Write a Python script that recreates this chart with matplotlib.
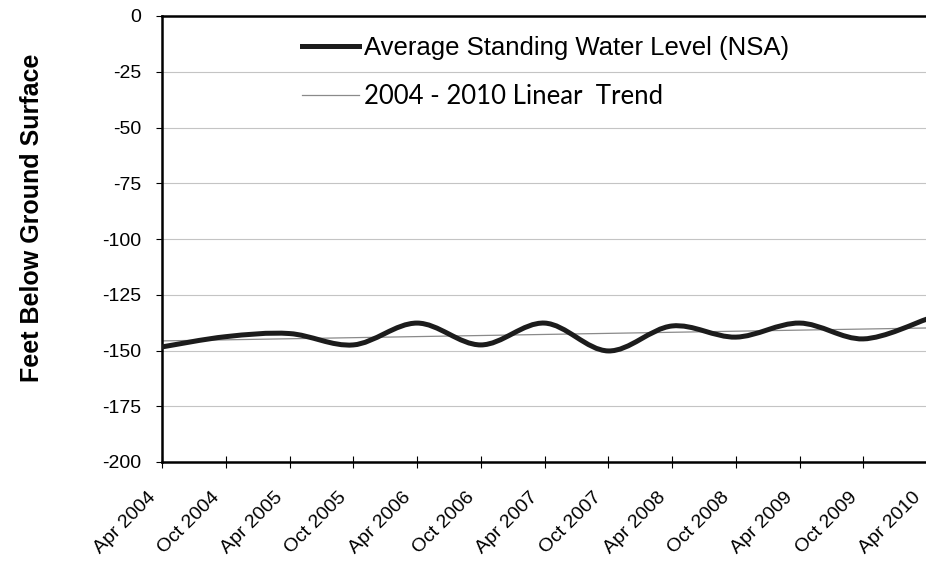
import numpy as np
import matplotlib
matplotlib.use('Agg')
import matplotlib.pyplot as plt
import matplotlib.transforms as mtransforms
from matplotlib.path import Path
from matplotlib.patches import PathPatch
from matplotlib.lines import Line2D

plt.rcParams['font.family'] = ['Liberation Sans', 'DejaVu Sans']

months = ['Apr 2004', 'Oct 2004', 'Apr 2005', 'Oct 2005', 'Apr 2006', 'Oct 2006',
          'Apr 2007', 'Oct 2007', 'Apr 2008', 'Oct 2008', 'Apr 2009', 'Oct 2009',
          'Apr 2010']
water_level = [-148.4, -143.8, -142.4, -147.5, -137.7, -147.5, -137.7,
               -150.2, -139.0, -144.0, -137.7, -144.8, -135.9]
trend_ends = [-145.7, -139.9]
y_ticks = [0, -25, -50, -75, -100, -125, -150, -175, -200]

x = np.arange(len(months))
y = np.array(water_level)

fig = plt.figure(figsize=(9.26, 5.62), dpi=100)
ax = fig.add_axes([162 / 926, 1 - 462 / 562, 765 / 926, 446 / 562])

# gridlines
for v in y_ticks[1:-1]:
    ax.axhline(v, color='#c4c4c4', lw=0.8, zorder=1)

# linear trend
ax.plot([x[0], x[-1]], trend_ends, color='#8a8a8a', lw=0.9, zorder=2)

# smoothed line (Catmull-Rom as cubic bezier, like Excel's smoothed line)
verts = [(x[0], y[0])]
codes = [Path.MOVETO]
for i in range(len(x) - 1):
    p0 = (x[max(i - 1, 0)], y[max(i - 1, 0)])
    p1 = (x[i], y[i])
    p2 = (x[i + 1], y[i + 1])
    p3 = (x[min(i + 2, len(x) - 1)], y[min(i + 2, len(x) - 1)])
    c1 = (p1[0] + (p2[0] - p0[0]) / 6, p1[1] + (p2[1] - p0[1]) / 6)
    c2 = (p2[0] - (p3[0] - p1[0]) / 6, p2[1] - (p3[1] - p1[1]) / 6)
    verts += [c1, c2, p2]
    codes += [Path.CURVE4] * 3
ax.add_patch(PathPatch(Path(verts, codes), fill=False, edgecolor='#1c1c1c',
                       lw=3.6, capstyle='round', zorder=3))

ax.set_xlim(0, 12)
ax.set_ylim(-200, 0)
ax.set_yticks(y_ticks)
ax.set_yticklabels([str(v) for v in y_ticks], fontsize=14)
ax.set_xticks(x)
ax.set_xticklabels(months, rotation=45, ha='right', va='top',
                   rotation_mode='anchor', fontsize=14)
ax.tick_params(axis='y', direction='out', length=4, width=0.8, pad=11)
ax.tick_params(axis='x', direction='inout', length=8, width=0.8, pad=0)

# shift the slanted date labels like the original
offset = mtransforms.ScaledTranslation(-15 / 100, -21 / 100, fig.dpi_scale_trans)
for lab in ax.get_xticklabels():
    lab.set_transform(lab.get_transform() + offset)

for s in ['top', 'left', 'bottom']:
    ax.spines[s].set_linewidth(1.8)
ax.spines['right'].set_visible(False)

fig.text(32 / 926, 1 - 218 / 562, 'Feet Below Ground Surface', rotation=90,
         fontsize=18, fontweight='bold', ha='center', va='center')

handles = [Line2D([], [], color='#1c1c1c', lw=3.6),
           Line2D([], [], color='#8a8a8a', lw=0.9)]
leg = ax.legend(handles, ['Average Standing Water Level (NSA)', '2004 - 2010 Linear  Trend'],
                loc='upper left', bbox_to_anchor=(302 / 926, 1 - 36 / 562),
                bbox_transform=fig.transFigure, frameon=False, fontsize=18.5,
                borderpad=0, borderaxespad=0,
                handlelength=2.2, handletextpad=0.22, labelspacing=0.95)
leg.get_texts()[1].set_family(['Lato', 'DejaVu Sans'])

fig.savefig('out.png', dpi=100)
